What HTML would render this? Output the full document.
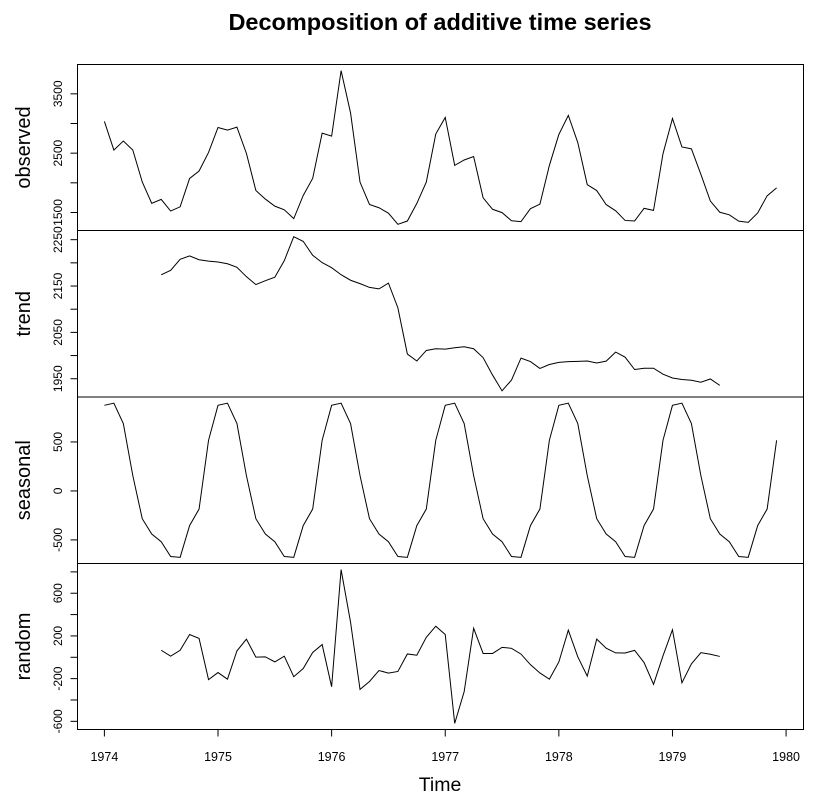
<!DOCTYPE html>
<html><head><meta charset="utf-8"><style>
body{margin:0;background:#fff}
svg{display:block;font-family:"Liberation Sans",Arial,sans-serif}
</style></head><body>
<svg id="chart" width="830" height="810" viewBox="0 0 830 810">
<text x="440" y="30" text-anchor="middle" font-size="23.5" font-weight="bold">Decomposition of additive time series</text>
<text x="440" y="791" text-anchor="middle" font-size="19.5">Time</text>
</svg>
<script>
const startYear = 1974;
const xTicks = [1974, 1975, 1976, 1977, 1978, 1979, 1980];
const observed = [3035,2552,2704,2554,2014,1655,1721,1524,1596,2074,2199,2512,
2933,2889,2938,2497,1870,1726,1607,1545,1396,1787,2076,2837,
2787,3891,3179,2011,1636,1580,1489,1300,1356,1653,2013,2823,
3102,2294,2385,2444,1748,1554,1498,1361,1346,1564,1640,2293,
2815,3137,2679,1969,1870,1633,1529,1366,1357,1570,1535,2491,
3084,2605,2573,2143,1693,1504,1461,1354,1333,1492,1781,1915];
const trend = [null,null,null,null,null,null,
2174.1,2183.9,2207.7,2215.1,2206.7,2203.7,2201.9,2198.0,2190.5,2170.2,2153.1,2161.5,
2169.0,2204.7,2256.5,2246.3,2216.3,2200.5,2189.5,2174.4,2162.5,2155.2,2147.0,2143.8,
2156.3,2102.9,2003.3,1988.3,2011.0,2014.6,2013.9,2016.8,2018.9,2014.8,1995.5,1957.9,
1923.9,1947.1,1994.5,1987.0,1972.3,1980.7,1985.3,1986.8,1987.5,1988.2,1984.1,1988.0,
2007.5,1996.5,1969.9,1972.7,1972.6,1959.8,1951.6,1948.3,1946.8,1942.5,1949.5,1935.7,
null,null,null,null,null,null];
const seasonalMonths = [874,896,688,157,-284,-440,-519,-670,-678,-354,-185,517];
const random = [null,null,null,null,null,null,
66,10,66,213,177,-209,-143,-205,60,170,1,4,
-43,10,-182,-105,45,119,-276,821,329,-301,-227,-124,
-148,-133,31,19,187,291,214,-619,-322,272,36,36,
93,84,30,-69,-147,-205,-44,254,4,-176,170,85,
41,40,65,-49,-253,14,258,-239,-62,43,28,8,
null,null,null,null,null,null];
const seasonal = observed.map((_, i) => seasonalMonths[i % 12]);
const panelNames = ["observed","trend","seasonal","random"];
const panelTicks = [[1500,2000,2500,3000,3500],[1950,2000,2050,2100,2150,2200,2250],[-500,0,500],[-600,-400,-200,0,200,400,600,800]];
const panelLabels = [[1500,2500,3500],[1950,2050,2150,2250],[-500,0,500],[-600,-200,200,600]];

const NS = "http://www.w3.org/2000/svg";
const svg = document.getElementById("chart");
const L = 77.5, R = 803.5, panelTops = [64.5,230.5,397,563.5,729.5];
const xMin = startYear - 0.04*(71/12), xMax = startYear + 71/12 + 0.04*(71/12);
const xScale = t => L + (t - xMin)/(xMax - xMin)*(R - L);
function mk(tag, attrs){const e=document.createElementNS(NS,tag);for(const k in attrs)e.setAttribute(k,attrs[k]);svg.appendChild(e);return e;}

[observed, trend, seasonal, random].forEach((series, p) => {
  const vals = series.filter(v => v !== null);
  const mn = Math.min(...vals), mx = Math.max(...vals), pad = 0.04*(mx - mn);
  const lo = mn - pad, hi = mx + pad, top = panelTops[p], bot = panelTops[p+1];
  const yScale = v => bot - (v - lo)/(hi - lo)*(bot - top);
  const box = mk("rect",{x:L,y:top,width:R-L,height:bot-top,fill:"none",stroke:"#000","stroke-width":1});
  
  
  let d = "", pen = false;
  series.forEach((v, i) => {
    if (v === null) { pen = false; return; }
    d += (pen ? "L" : "M") + xScale(startYear + i/12).toFixed(2) + "," + yScale(v).toFixed(2);
    pen = true;
  });
  const line = mk("path",{d:d,fill:"none",stroke:"#000","stroke-width":1});
  
  
  panelTicks[p].forEach(t => {
    const y = yScale(t);
    const tk = mk("line",{x1:L-7,x2:L,y1:y,y2:y,stroke:"#000","stroke-width":1});
    
    
  });
  panelLabels[p].forEach(t => {
    const y = yScale(t);
    const tx = mk("text",{x:0,y:0,transform:`translate(62,${y}) rotate(-90)`,"text-anchor":"middle","font-size":12});
    tx.textContent = String(t);
    
    
  });
  const lab = mk("text",{x:0,y:0,transform:`translate(30,${(top+bot)/2}) rotate(-90)`,"text-anchor":"middle","font-size":20});
  lab.textContent = panelNames[p];
  
  
});

xTicks.forEach(t => {
  const x = xScale(t);
  const tk = mk("line",{x1:x,x2:x,y1:729.5,y2:736.5,stroke:"#000","stroke-width":1});
  
  
  const tx = mk("text",{x:x,y:761,"text-anchor":"middle","font-size":12.5});
  tx.textContent = String(t);
  
  
});
</script>
</body></html>
